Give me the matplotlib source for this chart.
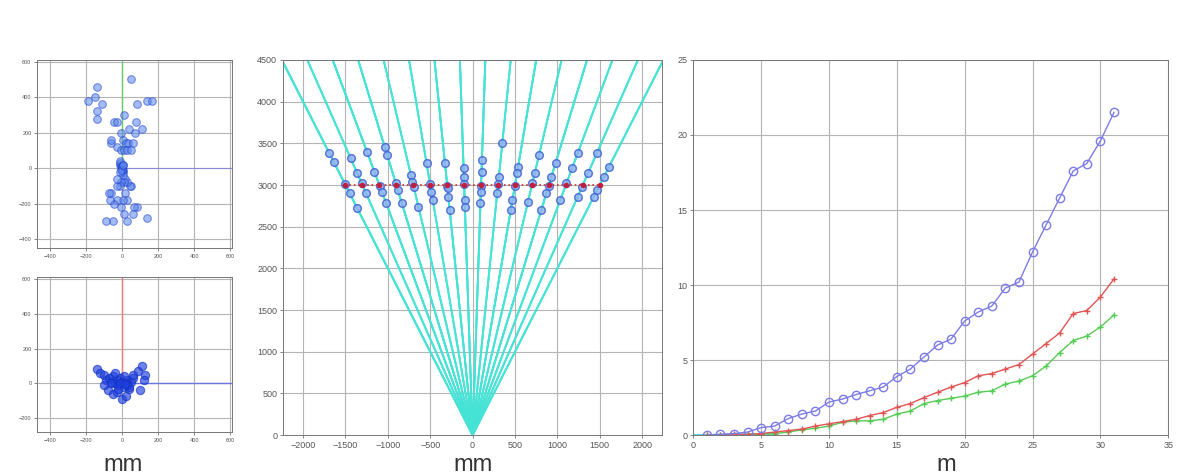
import numpy as np
import matplotlib
matplotlib.use("Agg")
import matplotlib.pyplot as plt

plt.rcParams["font.family"] = ["Liberation Sans", "DejaVu Sans"]

# middle panel: true target positions (x at depth 3000 mm) and measured depths along each ray
truth_x = [-1500, -1300, -1100, -900, -700, -500, -300, -100,
           100, 300, 500, 700, 900, 1100, 1300, 1500]
truth_depth = 3000
measured_depths = [
    [3380, 3280, 3010, 2900, 2720],
    [3320, 3140, 3020, 2900],
    [3400, 3160, 2990, 2920, 2780],
    [3460, 3360, 3030, 2940, 2780],
    [3120, 3040, 2980, 2740],
    [3260, 3010, 2920, 2820],
    [3260, 2990, 2960, 2860, 2700],
    [3200, 3100, 3010, 2820, 2740],
    [3300, 3160, 2990, 2920, 2780],
    [3500, 3100, 3010, 2900],
    [3220, 3140, 2990, 2820, 2700],
    [3360, 3140, 3020, 2800],
    [3260, 3100, 2990, 2900, 2700],
    [3380, 3200, 3020, 2820],
    [3380, 3140, 2980, 2860],
    [3220, 3100, 2940, 2860],
]

# bottom-left panel: lateral error scatter (mm)
lat_err_x = [-140, -120, -100, -90, -70, -60, -50, -40, -30, -20, -10, 0, 10, 20,
             30, 40, 50, 60, -80, -50, -30, 0, 20, 40, 60, 90, 110, 130, 120, 100,
             -60, -20, 10, 30, -100, -40, -10, 15]
lat_err_y = [80, 60, 50, 20, 30, 10, 40, 0, 20, -10, 30, 10, -20, 0,
             20, -30, 10, 30, -40, -60, -50, -90, -70, -20, 50, 70, 100, 50, 20, -40,
             0, -30, 40, -10, -10, 60, 5, -5]

# right panel: error vs distance
dist_m = list(range(1, 32))
err_blue = [0.0, 0.05, 0.1, 0.2, 0.5, 0.6, 1.1, 1.4, 1.6, 2.2, 2.4, 2.7, 2.95, 3.2, 3.9,
            4.4, 5.2, 6.0, 6.4, 7.6, 8.2, 8.6, 9.8, 10.2, 12.2, 14.0, 15.8, 17.6, 18.1,
            19.6, 21.5]
err_red = [0.0, 0.02, 0.05, 0.05, 0.1, 0.2, 0.3, 0.4, 0.6, 0.75, 0.9, 1.05, 1.3, 1.5,
           1.85, 2.1, 2.5, 2.85, 3.2, 3.5, 3.95, 4.1, 4.4, 4.7, 5.4, 6.1, 6.8, 8.1, 8.3,
           9.2, 10.4]
err_green = [0.0, 0.0, 0.02, 0.03, 0.05, 0.1, 0.2, 0.35, 0.45, 0.6, 0.85, 0.95, 0.95,
             1.05, 1.4, 1.6, 2.1, 2.3, 2.45, 2.6, 2.85, 2.95, 3.4, 3.6, 3.95, 4.6, 5.5,
             6.3, 6.6, 7.2, 8.0]
cyan_x = [0, 1, 2, 3, 4, 5, 6]
err_cyan = [0.0, 0.0, 0.02, 0.03, 0.05, 0.08, 0.1]

GRID = "#b4b4b4"
TICK = "#555555"
RAY = "#45e3d6"


def style(ax, size):
    ax.grid(True, color=GRID, lw=0.8)
    ax.set_axisbelow(True)
    ax.tick_params(labelsize=size, colors=TICK, length=2, width=0.5, pad=2)
    for s in ax.spines.values():
        s.set_color("#777777")
        s.set_linewidth(0.7)


fig = plt.figure(figsize=(11.83, 4.76), dpi=100)

# ---- middle panel ----
ax_m = fig.add_axes([0.239, 0.086, 0.321, 0.788])
top = 4500
for tx, depths in zip(truth_x, measured_depths):
    for d in depths:
        mx = tx * d / truth_depth
        ax_m.plot([0, mx * top / d], [0, top], color=RAY, lw=1.3, alpha=0.7, zorder=2)
for tx, depths in zip(truth_x, measured_depths):
    mx = [tx * d / truth_depth for d in depths]
    ax_m.plot(mx, depths, "o", ms=5.5, mfc="#8fb0f0", mec="#3a5fd0", mew=1.1, alpha=0.8, zorder=3)
ax_m.plot(truth_x, [truth_depth] * len(truth_x), ":", color="#d03030", lw=1.2, zorder=4)
ax_m.plot(truth_x, [truth_depth] * len(truth_x), "o", ms=3, color="#c02040", zorder=5)
ax_m.set_xlim(-2240, 2240)
ax_m.set_ylim(0, 4500)
ax_m.set_xticks(np.arange(-2000, 2001, 500))
ax_m.set_yticks(np.arange(0, 4501, 500))
style(ax_m, 6.5)

# ---- top-left panel: depth error scatter ----
ax_tl = fig.add_axes([0.0313, 0.479, 0.165, 0.395])
ex, ez = [], []
for tx, depths in zip(truth_x, measured_depths):
    for d in depths:
        ex.append(tx * d / truth_depth - tx)
        ez.append(d - truth_depth)
ax_tl.plot([0, 0], [0, 600], color="#66cc66", lw=1, zorder=2)
ax_tl.plot([0, 610], [0, 0], color="#8888dd", lw=0.8, zorder=2)
ax_tl.plot(ex, ez, "o", ms=5.5, mfc="#5a86ee", mec="#2244cc", mew=0.8, alpha=0.55, zorder=3)
ax_tl.set_xlim(-470, 610)
ax_tl.set_ylim(-450, 610)
ax_tl.set_xticks(np.arange(-400, 601, 200))
ax_tl.set_yticks(np.arange(-400, 601, 200))
style(ax_tl, 4)

# ---- bottom-left panel: lateral error scatter ----
ax_bl = fig.add_axes([0.0313, 0.092, 0.165, 0.326])
ax_bl.plot([0, 0], [0, 610], color="#ee7777", lw=1, zorder=2)
ax_bl.plot([0, 610], [0, 0], color="#6677dd", lw=1, zorder=2)
ax_bl.plot(lat_err_x, lat_err_y, "o", ms=6, mfc="#2040e0", mec="#1030c0", mew=0.8,
           alpha=0.65, zorder=3)
ax_bl.set_xlim(-470, 610)
ax_bl.set_ylim(-280, 610)
ax_bl.set_xticks(np.arange(-400, 601, 200))
ax_bl.set_yticks(np.arange(-200, 601, 200))
style(ax_bl, 4)

# ---- right panel ----
ax_r = fig.add_axes([0.586, 0.086, 0.4015, 0.788])
ax_r.plot(cyan_x, err_cyan, "-", color="#55dddd", lw=1.5)
ax_r.plot(dist_m, err_green, "-+", color="#55cc55", lw=1, ms=5, mew=1)
ax_r.plot(dist_m, err_red, "-+", color="#e05555", lw=1, ms=5, mew=1)
ax_r.plot(dist_m, err_blue, "-o", color="#7c7ce6", lw=1, ms=6, mfc="none", mew=1)
ax_r.set_xlim(0, 35)
ax_r.set_ylim(0, 25)
ax_r.set_xticks(np.arange(0, 36, 5))
ax_r.set_yticks(np.arange(0, 26, 5))
style(ax_r, 6.5)

fig.text(123 / 1183, 1 - 465 / 476, "mm", ha="center", va="center", fontsize=17, color="#333333")
fig.text(473 / 1183, 1 - 465 / 476, "mm", ha="center", va="center", fontsize=17, color="#333333")
fig.text(946 / 1183, 1 - 465 / 476, "m", ha="center", va="center", fontsize=17, color="#333333")

fig.savefig("out.png", dpi=100)
